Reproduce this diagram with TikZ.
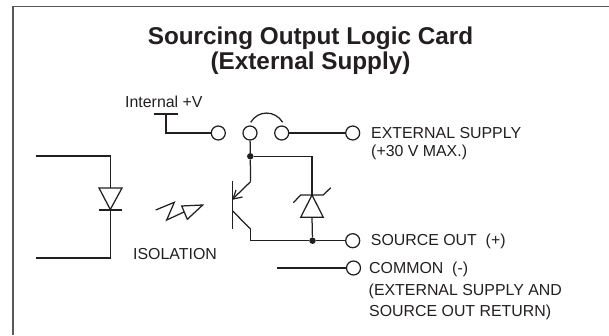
\documentclass[tikz,border=0pt]{standalone}
\usepackage{fontspec}
\setmainfont{Liberation Sans}
\usetikzlibrary{arrows.meta}
\definecolor{ink}{HTML}{231F20}
\definecolor{frameg}{HTML}{58595B}
\tikzset{
  x=1pt,y=-1pt,
  wire/.style={draw=ink,line width=1.25pt,line join=miter},
  term/.style={circle,draw=ink,line width=1.25pt,fill=white,minimum size=14pt,inner sep=0pt},
  dot/.style={circle,fill=ink,minimum size=6.5pt,inner sep=0pt},
  lab/.style={anchor=west,inner sep=0pt,text=ink,font=\fontsize{15.9}{18}\selectfont},
  ttl/.style={inner sep=0pt,text=ink,align=center,font=\fontsize{24.3}{25}\selectfont\bfseries}
}
\begin{document}
\begin{tikzpicture}
\useasboundingbox (0,0) rectangle (609,335);
\draw[frameg,line width=1.6pt] (13,335) -- (13,6.5) -- (609,6.5);
\node[ttl] (title) at (310.5,51) {Sourcing Output Logic Card\\(External Supply)};
% terminals
\node[term] (t1) at (218.3,133) {};
\node[term] (t2) at (250,133) {};
\node[term] (t3) at (281.7,133) {};
\node[term] (t4) at (352.7,133) {};
\node[term] (t5) at (352.7,240.7) {};
\node[term] (t6) at (353.5,268) {};
\node[dot] (j1) at (250.3,156.3) {};
\node[dot] (j2) at (312.5,240.7) {};
% labels
\node[lab] (l0) at (125,102) {Internal +V};
\node[lab] (l1) at (371,133) {EXTERNAL SUPPLY};
\node[lab] (l2) at (371,152) {(+30 V MAX.)};
\node[lab] (l3) at (370.7,241) {SOURCE OUT\ \ (+)};
\node[lab] (l4) at (369,269) {COMMON\ \ (-)};
\node[lab] (l5) at (368.5,291) {(EXTERNAL SUPPLY AND};
\node[lab] (l6) at (369,312.5) {SOURCE OUT RETURN)};
\node[lab] (l7) at (133,254) {ISOLATION};
% coordinates
\coordinate (ibarl) at (154.3,114);
\coordinate (ibarr) at (178.3,114);
\coordinate (ibarm) at (166,114);
\coordinate (comst) at (277,268);
\coordinate (inL1) at (36,156);
\coordinate (inL2) at (36,258);
\coordinate (dt) at (110.3,188);
\coordinate (db) at (110.3,210);
\coordinate (zt) at (312,195);
\coordinate (zb) at (312,217.3);
\coordinate (em) at (250.5,181.7);
\coordinate (co) at (250.5,229);
% wiring
\draw[wire] (ibarl) -- (ibarr);
\draw[wire] (ibarm) |- (t1);
\draw[wire] (t2) -- (j1);
\draw[wire] (t3) -- (t4);
\draw[wire] (t5) -- (j2);
\draw[wire] (comst) -- (t6);
\draw[wire] (inL1) -| (dt);
\draw[wire] (inL2) -| (db);
\draw[wire] (j1) -| (zt);
\draw[wire] (zb) -- (j2);
\draw[wire] (j1) -- (em);
\draw[wire] (co) |- (j2);
% jumper
\draw[wire] (250.7,122.3) .. controls (258,110) and (275,110) .. (282.7,122.3);
% diode
\draw[wire] (99,188) -- (122,188) -- (110.3,209.5) -- cycle;
\draw[wire] (99,210) -- (122,210);
% light
\draw[wire] (155.7,210) -- (174.3,202.3) -- (166.7,220) -- (184,212);
\draw[wire] (181.7,206) -- (202.7,205) -- (187.3,219.3) -- cycle;
% transistor
\draw[wire] (232.7,181) -- (232.7,229);
\draw[wire] (em) -- (232.7,199);
\draw[wire] (232.7,211) -- (co);
\draw[wire] (233,199) -- (236,190);
\draw[wire] (233,199) -- (242.5,197);
% zener
\draw[wire] (zt) -- (323.3,217.3) -- (300.7,217.3) -- cycle;
\draw[wire] (293.3,202.7) -- (300.7,195) -- (323.3,195) -- (330.7,187.7);
\end{tikzpicture}
\end{document}
